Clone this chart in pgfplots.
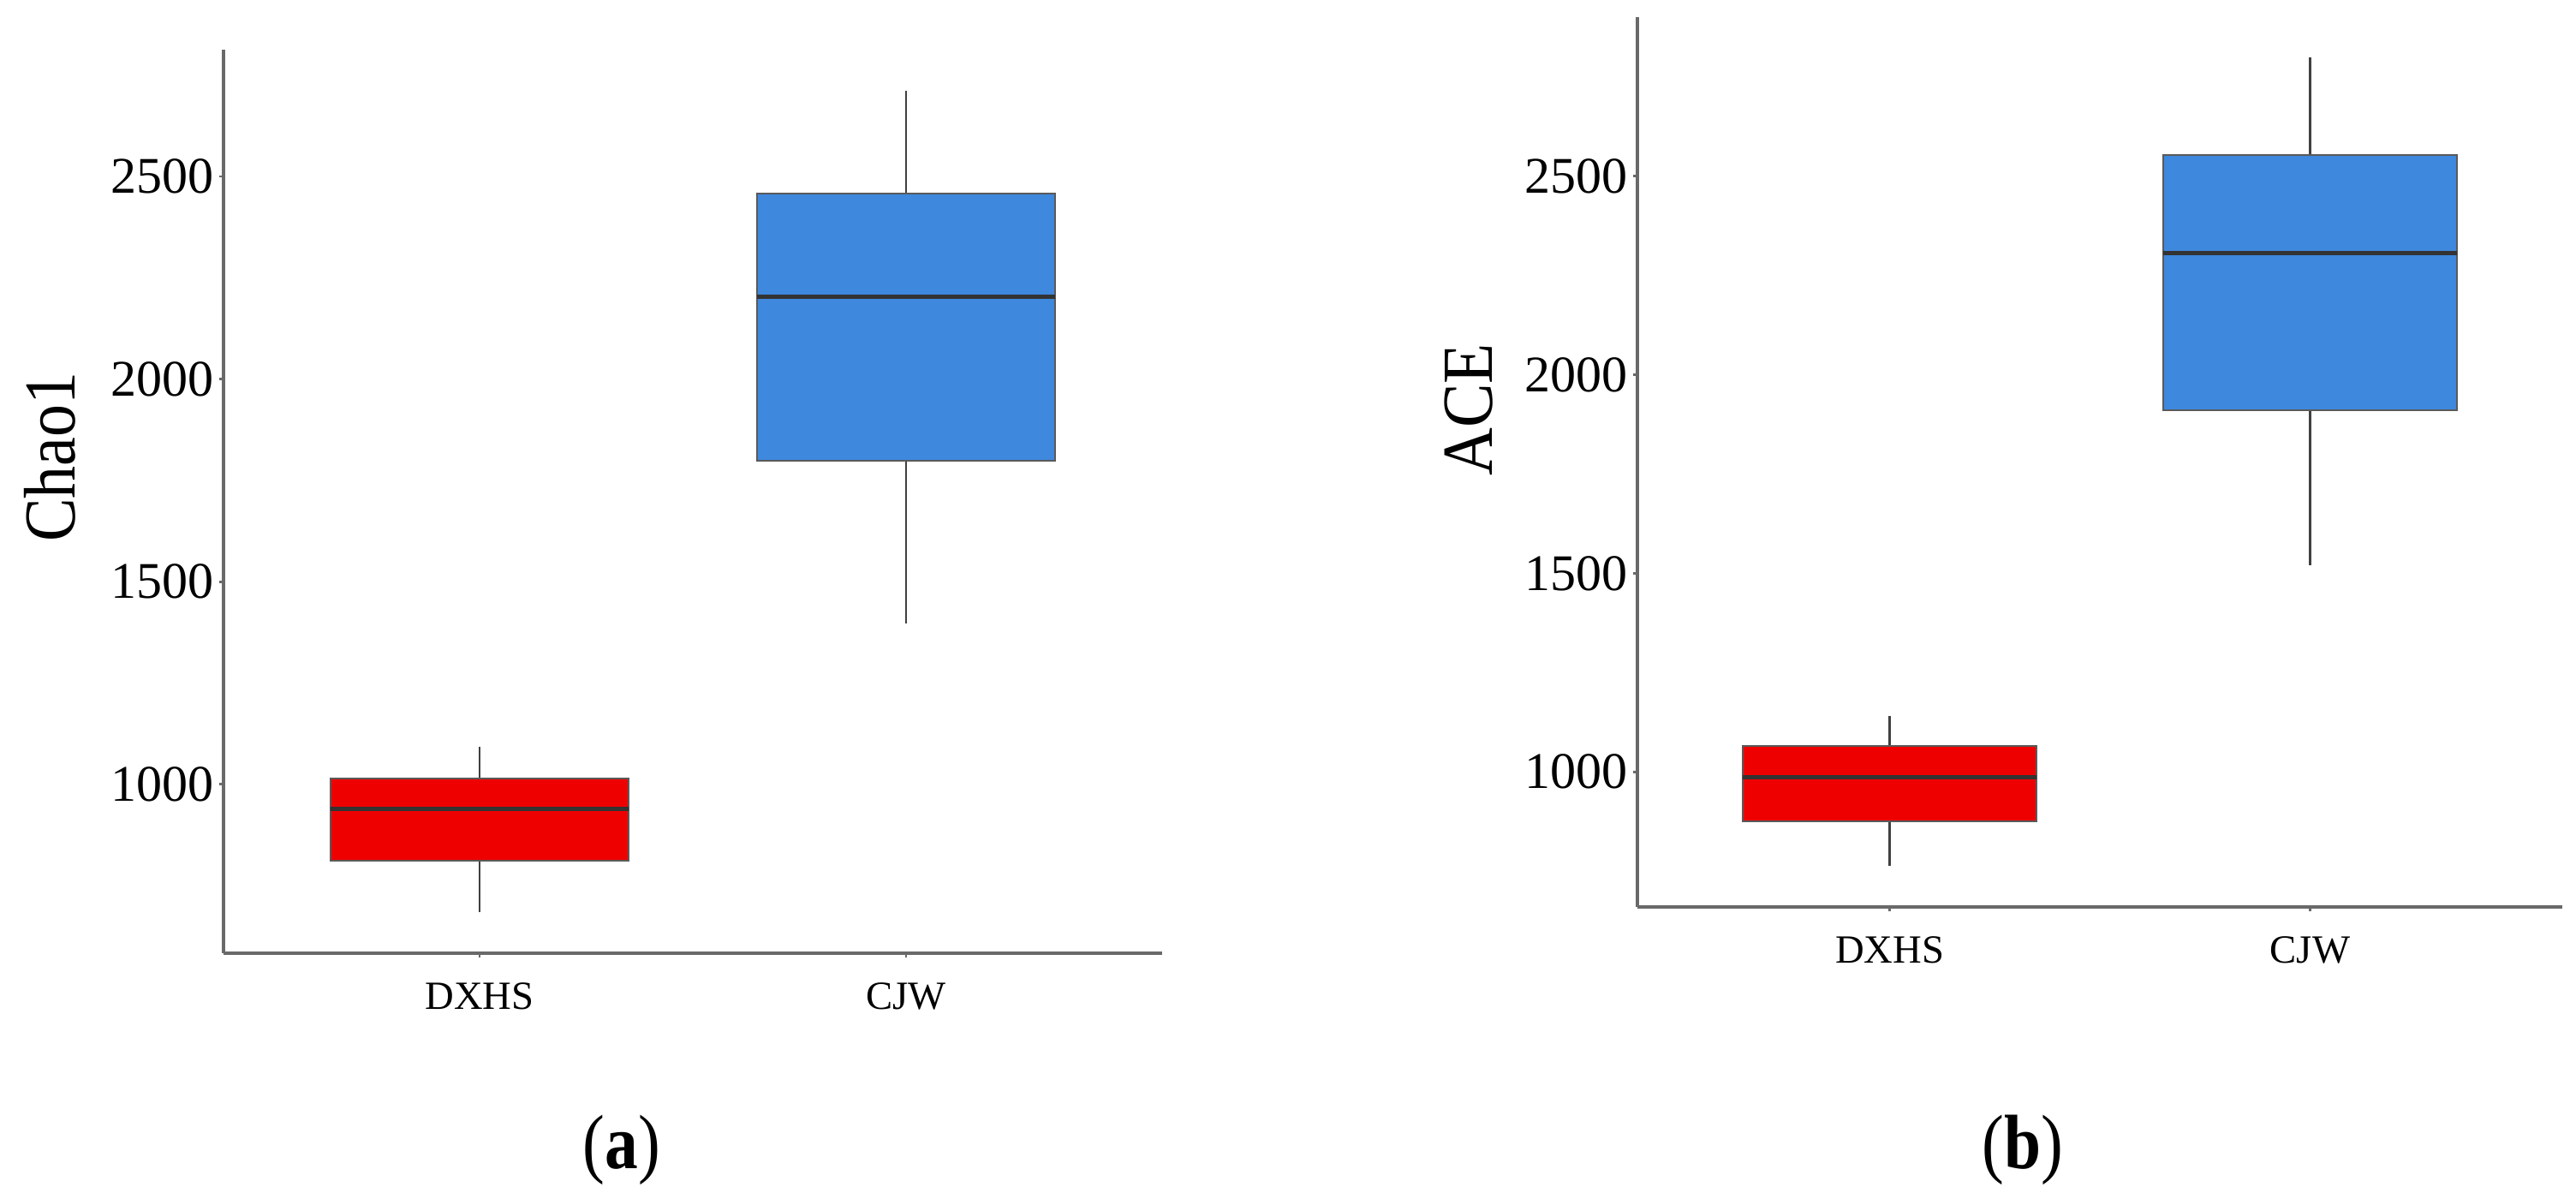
\documentclass[border=0pt]{standalone}
\usepackage{fontspec}
\setmainfont{Liberation Serif}
\usepackage{pgfplots}
\pgfplotsset{compat=1.18}
\definecolor{boxred}{RGB}{238,0,0}
\definecolor{boxblue}{RGB}{62,136,221}
\definecolor{axgray}{RGB}{90,90,90}
\definecolor{linegray}{RGB}{105,105,105}
\pgfplotsset{
  panel/.style={
    scale only axis,
    axis lines=left,
    axis line style={-, draw=linegray, line width=0.5pt},
    tick align=outside,
    major tick length=0.8pt,
    tick style={draw=linegray, line width=0.4pt},
    xmin=0.4, xmax=2.6,
    xtick={1,2}, xticklabels={DXHS,CJW},
    ytick={1000,1500,2000,2500},
    /pgf/number format/assume math mode=true,
    /pgf/number format/1000 sep={},
    xticklabel style={font=\fontsize{7}{8}\selectfont, yshift=-0.8pt},
    yticklabel style={font=\fontsize{9}{10}\selectfont, inner sep=0.8pt},
    clip=false,
  },
  boxs/.style={draw=axgray, line width=0.3pt},
  med/.style={draw=black!80, line width=0.75pt},
  whisk/.style={draw=black!75, line width=0.35pt},
}
\begin{document}
\begin{tikzpicture}
\path[use as bounding box] (0,0) rectangle (451.2pt,209.85pt);
\begin{axis}[panel,
  at={(39.15pt,42.9pt)}, anchor=south west,
  width=164.4pt, height=158.25pt,
  ymin=583, ymax=2813,
  ylabel={\scalebox{0.89}[1]{Chao1}},
  ylabel style={font=\fontsize{12.8}{14}\selectfont, at={(axis description cs:-0.185,0.549)}, anchor=center},
]
% DXHS: lw 684, lq 812, med 940, uq 1015, uw 1092
\addplot[whisk] coordinates {(1,684) (1,812)};
\addplot[whisk] coordinates {(1,1015) (1,1092)};
\addplot[boxs, fill=boxred] coordinates {(0.65,812) (1.35,812) (1.35,1015) (0.65,1015)} -- cycle;
\addplot[med] coordinates {(0.65,940) (1.35,940)};
% CJW: lw 1397, lq 1799, med 2203, uq 2458, uw 2711
\addplot[whisk] coordinates {(2,1397) (2,1799)};
\addplot[whisk] coordinates {(2,2458) (2,2711)};
\addplot[boxs, fill=boxblue] coordinates {(1.65,1799) (2.35,1799) (2.35,2458) (1.65,2458)} -- cycle;
\addplot[med] coordinates {(1.65,2203) (2.35,2203)};
\end{axis}
\begin{axis}[panel,
  at={(286.8pt,51pt)}, anchor=south west,
  width=162pt, height=155.85pt,
  ymin=660, ymax=2900,
  ylabel={\scalebox{0.92}[1]{ACE}},
  ylabel style={font=\fontsize{12.6}{14}\selectfont, at={(axis description cs:-0.182,0.559)}, anchor=center},
]
% DXHS: lw 764, lq 876, med 987, uq 1066, uw 1140
\addplot[whisk] coordinates {(1,764) (1,876)};
\addplot[whisk] coordinates {(1,1066) (1,1140)};
\addplot[boxs, fill=boxred] coordinates {(0.65,876) (1.35,876) (1.35,1066) (0.65,1066)} -- cycle;
\addplot[med] coordinates {(0.65,987) (1.35,987)};
% CJW: lw 1521, lq 1911, med 2306, uq 2553, uw 2799
\addplot[whisk] coordinates {(2,1521) (2,1911)};
\addplot[whisk] coordinates {(2,2553) (2,2799)};
\addplot[boxs, fill=boxblue] coordinates {(1.65,1911) (2.35,1911) (2.35,2553) (1.65,2553)} -- cycle;
\addplot[med] coordinates {(1.65,2306) (2.35,2306)};
\end{axis}
\node[font=\fontsize{13.5}{15}\selectfont] at (108.9pt,8.4pt) {\scalebox{0.86}[1]{(\textbf{a})}};
\node[font=\fontsize{13.5}{15}\selectfont] at (354.3pt,8.4pt) {\scalebox{0.86}[1]{(\textbf{b})}};
\end{tikzpicture}
\end{document}
